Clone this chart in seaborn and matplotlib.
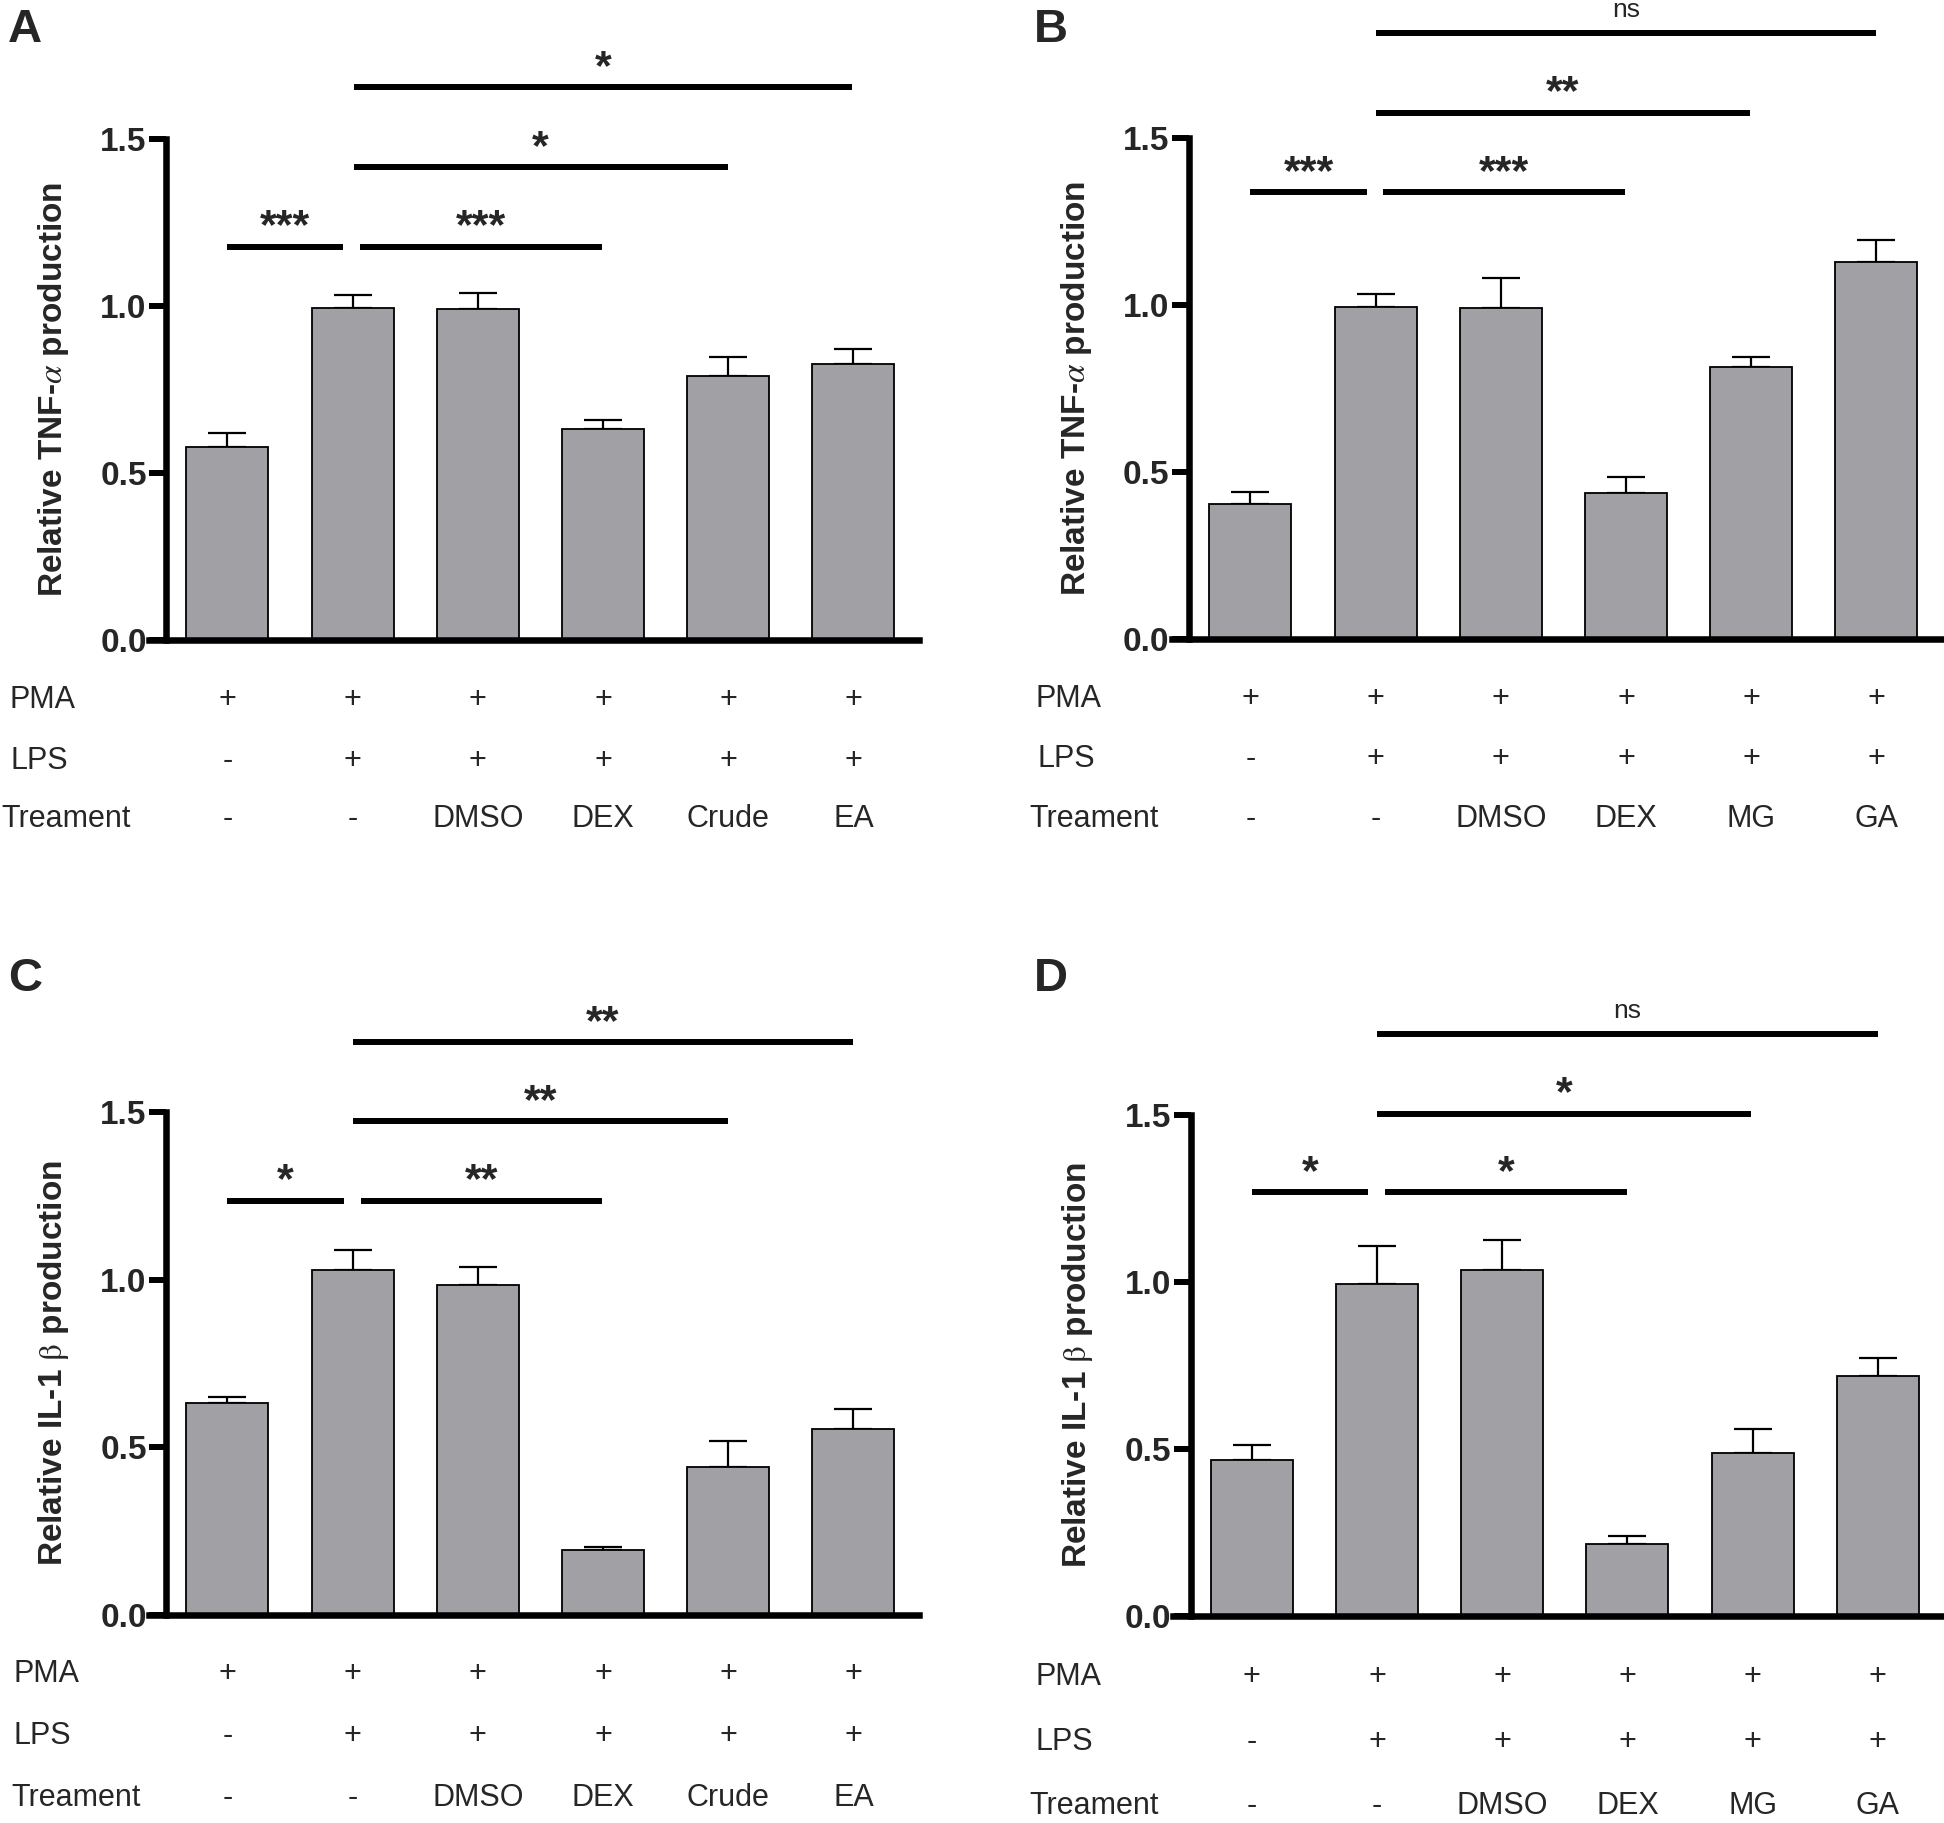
import numpy as np
import pandas as pd
import matplotlib
matplotlib.use("Agg")
import matplotlib.pyplot as plt
import matplotlib.transforms as mtransforms
import seaborn as sns

# ---------------- data ----------------
groups = ["G1", "G2", "G3", "G4", "G5", "G6"]

a_vals = [0.577, 0.995, 0.99, 0.632, 0.790, 0.825]
a_err = [0.043, 0.038, 0.048, 0.028, 0.057, 0.047]
b_vals = [0.404, 0.995, 0.99, 0.438, 0.813, 1.129]
b_err = [0.036, 0.038, 0.092, 0.048, 0.031, 0.065]
c_vals = [0.632, 1.030, 0.984, 0.195, 0.440, 0.554]
c_err = [0.017, 0.059, 0.055, 0.007, 0.078, 0.060]
d_vals = [0.467, 0.995, 1.037, 0.217, 0.489, 0.720]
d_err = [0.044, 0.114, 0.088, 0.022, 0.071, 0.053]

pma_row = ["+", "+", "+", "+", "+", "+"]
lps_row = ["-", "+", "+", "+", "+", "+"]
treat_ac = ["-", "-", "DMSO", "DEX", "Crude", "EA"]
treat_bd = ["-", "-", "DMSO", "DEX", "MG", "GA"]
row_names = ["PMA", "LPS", "Treament"]

ylab_tnf = r"Relative TNF-$\alpha$ production"
ylab_il = r"Relative IL-1 $\mathrm{\beta}$ production"
yticks = [0.0, 0.5, 1.0, 1.5]
ytick_labels = ["0.0", "0.5", "1.0", "1.5"]

# significance brackets: (x_start, x_end, y, label)
sig_a = [(0, 0.925, 1.178, "***"), (1.056, 2.99, 1.178, "***"),
         (1.008, 3.996, 1.416, "*"), (1.008, 4.99, 1.655, "*")]
sig_b = [(0, 0.93, 1.337, "***"), (1.063, 2.99, 1.337, "***"),
         (1.004, 3.99, 1.576, "**"), (1.004, 4.996, 1.813, "ns")]
sig_c = [(0, 0.93, 1.235, "*"), (1.064, 2.99, 1.235, "**"),
         (1.0, 4.0, 1.472, "**"), (1.0, 5.0, 1.708, "**")]
sig_d = [(0, 0.93, 1.268, "*"), (1.067, 2.998, 1.268, "*"),
         (1.0, 3.99, 1.503, "*"), (1.0, 5.0, 1.742, "ns")]

# ---------------- style ----------------
sns.set_theme(style="white")
plt.rcParams["font.family"] = ["Liberation Sans", "DejaVu Sans"]
plt.rcParams["mathtext.fontset"] = "stix"

W, H = 1944, 1823
fig = plt.figure(figsize=(W / 100, H / 100), dpi=100)

BAR_COLOR = "#A0A0A5"

panels = [
    dict(letter="A", vals=a_vals, err=a_err, treat=treat_ac, ylabel=ylab_tnf, sig=sig_a,
         rect=[148.6 / W, 1 - 640 / H, 770 / W, 501 / H],
         letter_xy=(8, 8), rows_y=[700, 761, 819], rows_x=[9, 10, 1]),
    dict(letter="B", vals=b_vals, err=b_err, treat=treat_bd, ylabel=ylab_tnf, sig=sig_b,
         rect=[1171.5 / W, 1 - 639 / H, 770 / W, 501 / H],
         letter_xy=(1034, 8), rows_y=[699, 759, 819], rows_x=[1036, 1037, 1029]),
    dict(letter="C", vals=c_vals, err=c_err, treat=treat_ac, ylabel=ylab_il, sig=sig_c,
         rect=[148.6 / W, 1 - 1615 / H, 770 / W, 503 / H],
         letter_xy=(8, 957), rows_y=[1674, 1736, 1798], rows_x=[14, 14, 11]),
    dict(letter="D", vals=d_vals, err=d_err, treat=treat_bd, ylabel=ylab_il, sig=sig_d,
         rect=[1173 / W, 1 - 1616 / H, 770 / W, 501 / H],
         letter_xy=(1034, 957), rows_y=[1677, 1742, 1806], rows_x=[1036, 1036, 1029]),
]

for p in panels:
    ax = fig.add_axes(p["rect"])
    df = pd.DataFrame({"group": groups, "value": p["vals"]})
    sns.barplot(data=df, x="group", y="value", order=groups, color=BAR_COLOR,
                saturation=1, width=0.655, edgecolor="black", linewidth=1.3,
                errorbar=None, ax=ax, zorder=2)
    xs = np.arange(len(groups))
    ax.errorbar(xs, p["vals"], yerr=[np.zeros(len(groups)), p["err"]], fmt="none",
                ecolor="black", elinewidth=1.6, capsize=14, capthick=1.6, zorder=1)

    for s in ["top", "right"]:
        ax.spines[s].set_visible(False)
    ax.spines["left"].set_position(("data", -0.49))
    ax.spines["left"].set_linewidth(4.7)
    ax.spines["bottom"].set_linewidth(4.7)
    ax.spines["left"].set_color("black")
    ax.spines["bottom"].set_color("black")

    ax.set_xlim(-0.63, 5.52)
    ax.set_ylim(0, 1.5)
    ax.set_xlabel("")
    ax.set_xticks([])
    ax.set_yticks(yticks)
    ax.set_yticklabels(ytick_labels, fontsize=24, fontweight="bold")
    ax.tick_params(axis="y", direction="out", length=12, width=4.3, pad=2,
                   color="black", left=True, labelsize=24)
    ax.set_ylabel(p["ylabel"], fontsize=24, fontweight="bold", labelpad=21)
    ax.set_facecolor("none")
    ax.grid(False)

    # significance brackets
    for x1, x2, y, lab in p["sig"]:
        ax.plot([x1, x2], [y, y], color="black", lw=4.3, solid_capstyle="butt",
                clip_on=False)
        if lab == "ns":
            ax.annotate(lab, xy=((x1 + x2) / 2, y), xytext=(0, 17),
                        textcoords="offset points", ha="center", va="center",
                        fontsize=19, annotation_clip=False)
        else:
            ax.annotate(lab, xy=((x1 + x2) / 2, y), xytext=(0, 14),
                        textcoords="offset points", ha="center", va="center",
                        fontsize=31, fontweight="bold", annotation_clip=False)

    # condition rows
    trans = mtransforms.blended_transform_factory(ax.transData, fig.transFigure)
    rows = [pma_row, lps_row, p["treat"]]
    for name, row, ypx, xpx in zip(row_names, rows, p["rows_y"], p["rows_x"]):
        yf = 1 - ypx / H
        fig.text(xpx / W, yf, name, fontsize=22, ha="left", va="center")
        for i, lab in enumerate(row):
            ax.text(i, yf, lab, transform=trans, fontsize=22, ha="center",
                    va="center", clip_on=False)

    lx, ly = p["letter_xy"]
    fig.text(lx / W, 1 - ly / H, p["letter"], fontsize=34, fontweight="bold",
             ha="left", va="top")

fig.savefig("out.png", dpi=100, facecolor="white")
